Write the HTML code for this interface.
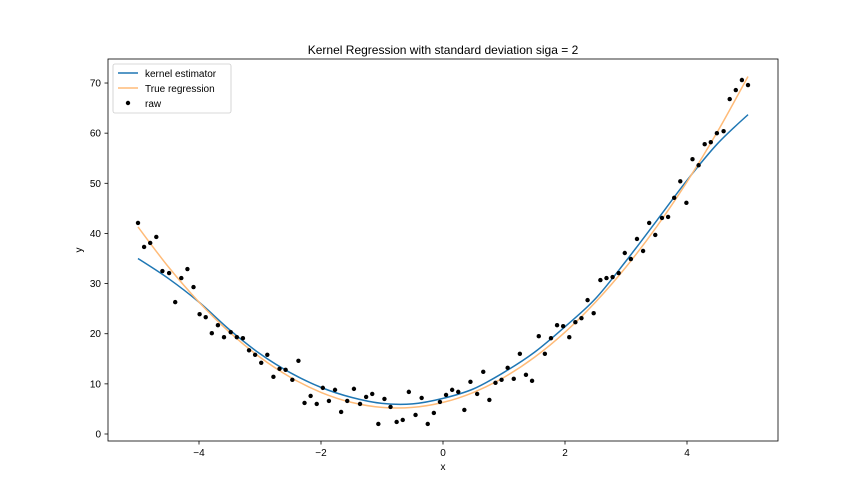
<!DOCTYPE html>
<html><head><meta charset="utf-8"><style>
body{margin:0;background:#fff;}
svg{display:block;font-family:"Liberation Sans","DejaVu Sans",sans-serif;}
</style></head><body>
<svg id="chart" width="864" height="504">
<rect width="864" height="504" fill="#fff"/>
<text x="443" y="54" font-size="12" text-anchor="middle">Kernel Regression with standard deviation siga = 2</text>
<g id="plot"></g>
<rect x="108" y="59" width="670" height="382" fill="none" stroke="#000" stroke-width="0.8"/>
<text x="443" y="470" font-size="10" text-anchor="middle">x</text>
<text x="82" y="250" font-size="10" text-anchor="middle" transform="rotate(-90 82 250)">y</text>
<g>
<rect x="113" y="64" width="118" height="49" rx="2" fill="#fff" stroke="#ccc" stroke-width="0.8"/>
<line x1="118" y1="73" x2="138" y2="73" stroke="#1f77b4" stroke-width="1.5"/>
<text x="145" y="77" font-size="10">kernel estimator</text>
<line x1="118" y1="88" x2="138" y2="88" stroke="#ffbb78" stroke-width="1.5"/>
<text x="145" y="92" font-size="10">True regression</text>
<circle cx="128" cy="103" r="2.2" fill="#000"/>
<text x="145" y="107" font-size="10">raw</text>
</g>
</svg>
<script>
const rawX=[-5.00,-4.90,-4.80,-4.70,-4.60,-4.49,-4.39,-4.29,-4.19,-4.09,-3.99,-3.89,-3.79,-3.69,-3.59,-3.48,-3.38,-3.28,-3.18,-3.08,-2.98,-2.88,-2.78,-2.68,-2.58,-2.47,-2.37,-2.27,-2.17,-2.07,-1.97,-1.87,-1.77,-1.67,-1.57,-1.46,-1.36,-1.26,-1.16,-1.06,-0.96,-0.86,-0.76,-0.66,-0.56,-0.45,-0.35,-0.25,-0.15,-0.05,0.05,0.15,0.25,0.35,0.45,0.56,0.66,0.76,0.86,0.96,1.06,1.16,1.26,1.36,1.46,1.57,1.67,1.77,1.87,1.97,2.07,2.17,2.27,2.37,2.47,2.58,2.68,2.78,2.88,2.98,3.08,3.18,3.28,3.38,3.48,3.59,3.69,3.79,3.89,3.99,4.09,4.19,4.29,4.39,4.49,4.60,4.70,4.80,4.90,5.00];
const rawY=[42.1,37.3,38.1,39.3,32.5,32.1,26.3,31.1,32.9,29.3,23.9,23.3,20.1,21.7,19.3,20.3,19.3,19.1,16.7,15.8,14.2,15.8,11.4,13.0,12.8,10.8,14.6,6.2,7.6,6.0,9.2,6.6,8.8,4.4,
6.6,9.0,6.0,7.4,8.0,2.0,7.0,5.4,2.4,2.8,8.4,3.8,7.2,2.0,4.2,6.4,7.8,8.8,8.4,4.8,10.4,8.0,12.4,6.8,10.2,10.8,13.2,11.0,16.0,11.8,10.6,
19.5,16.0,19.1,21.7,21.5,19.3,22.3,23.1,26.7,24.1,30.7,31.1,31.3,32.1,36.1,34.9,38.9,36.5,42.1,39.7,43.1,43.3,47.1,50.4,46.1,54.8,53.6,57.8,58.2,60.0,60.4,66.8,68.6,70.6,69.6];
const curveX=[-5,-4.5,-4,-3.5,-3,-2.5,-2,-1.5,-1,-0.5,0,0.5,1,1.5,2,2.5,3,3.5,4,4.5,5];
const kernelY=[35,31,26.3,20.8,16,12.2,9.3,7.3,6.1,6,7.1,9,12.3,16.3,21.4,27,34.5,42.5,50.6,57.9,63.7];
const trueY=[41.3,33.3,26.3,20.3,15.3,11.3,8.3,6.3,5.3,5.3,6.3,8.3,11.3,15.3,20.3,26.3,33.3,41.3,50.3,60.3,71.3];
const xTicks=[-4,-2,0,2,4];
const yTicks=[0,10,20,30,40,50,60,70];
const NS='http://www.w3.org/2000/svg';
const sx=v=>443+v*61;
const sy=v=>434-v*5.014;
const g=document.getElementById('plot');
function mk(t,a){const e=document.createElementNS(NS,t);for(const k in a)e.setAttribute(k,a[k]);g.appendChild(e);return e;}
xTicks.forEach(t=>{
 const l=mk('line',{x1:sx(t),x2:sx(t),y1:441,y2:444.5,stroke:'#000','stroke-width':0.8});
 
 
 const tx=mk('text',{x:sx(t),y:456,'font-size':10,'text-anchor':'middle'});
 tx.textContent=(t<0?'\u2212'+(-t):t);
 
 
});
yTicks.forEach(t=>{
 const l=mk('line',{x1:104.5,x2:108,y1:sy(t),y2:sy(t),stroke:'#000','stroke-width':0.8});
 
 
 const tx=mk('text',{x:101,y:sy(t)+3.5,'font-size':10,'text-anchor':'end'});
 tx.textContent=t;
 
 
});
function smooth(xs,ys){
 const p=xs.map((x,i)=>[sx(x),sy(ys[i])]);
 let d='M'+p[0][0]+','+p[0][1];
 for(let i=0;i<p.length-1;i++){
  const p0=p[Math.max(0,i-1)],p1=p[i],p2=p[i+1],p3=p[Math.min(p.length-1,i+2)];
  const c1=[p1[0]+(p2[0]-p0[0])/6,p1[1]+(p2[1]-p0[1])/6];
  const c2=[p2[0]-(p3[0]-p1[0])/6,p2[1]-(p3[1]-p1[1])/6];
  d+=' C'+c1+' '+c2+' '+p2;
 }
 return d;
}
const kl=mk('path',{d:smooth(curveX,kernelY),fill:'none',stroke:'#1f77b4','stroke-width':1.5});


const tl=mk('path',{d:smooth(curveX,trueY),fill:'none',stroke:'#ffbb78','stroke-width':1.5});


rawX.forEach((x,i)=>{
 const c=mk('circle',{cx:sx(x),cy:sy(rawY[i]),r:2.2,fill:'#000'});
 
 
});
</script>
</body></html>
